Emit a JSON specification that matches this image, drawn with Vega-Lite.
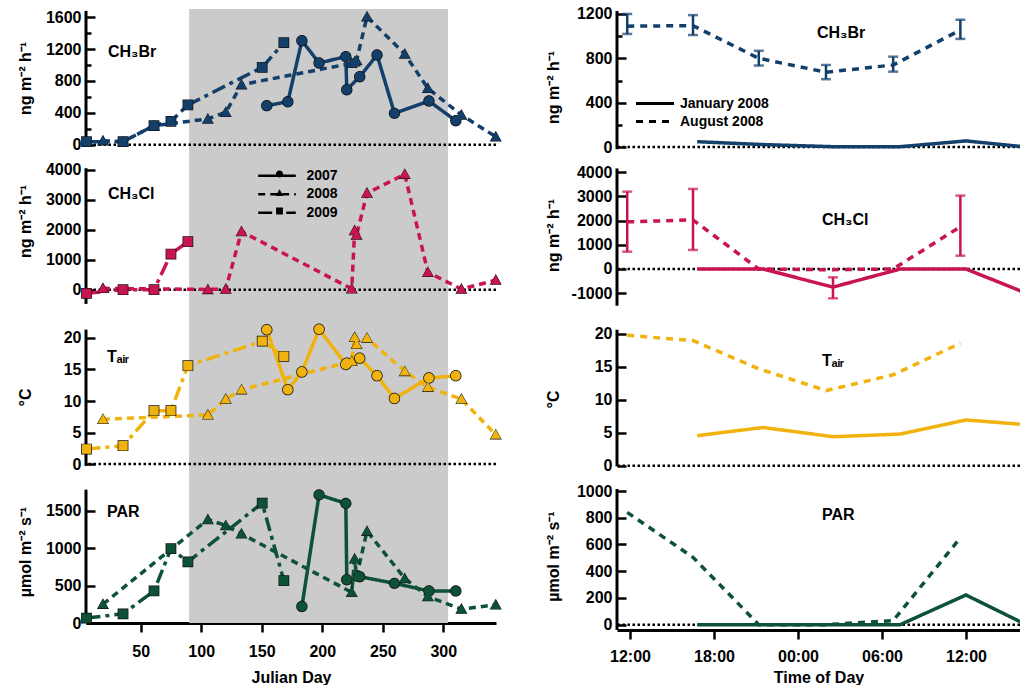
{
"$schema":"https://vega.github.io/schema/vega-lite/v6.json",
"background":"white",
"padding":{"left":17,"top":5,"right":0,"bottom":0},
"datasets":{
"shade":[{"start":90,"end":304}],
"left":[
{"p":"br","yr":"2008","d":18.8,"v":50},{"p":"br","yr":"2008","d":35.4,"v":38},{"p":"br","yr":"2008","d":61,"v":239},{"p":"br","yr":"2008","d":105.5,"v":323},{"p":"br","yr":"2008","d":120.3,"v":407},{"p":"br","yr":"2008","d":133.3,"v":754},{"p":"br","yr":"2008","d":224.4,"v":1022},{"p":"br","yr":"2008","d":226.8,"v":1040},{"p":"br","yr":"2008","d":228.4,"v":1058},{"p":"br","yr":"2008","d":237,"v":1608},{"p":"br","yr":"2008","d":268.2,"v":1139},{"p":"br","yr":"2008","d":287.3,"v":708},{"p":"br","yr":"2008","d":315,"v":373},{"p":"br","yr":"2008","d":343.4,"v":100},
{"p":"br","yr":"2007","d":154.2,"v":490},{"p":"br","yr":"2007","d":171.6,"v":540},{"p":"br","yr":"2007","d":183.2,"v":1306},{"p":"br","yr":"2007","d":197.4,"v":1026},{"p":"br","yr":"2007","d":219.5,"v":1106},{"p":"br","yr":"2007","d":220.3,"v":690},{"p":"br","yr":"2007","d":231,"v":854},{"p":"br","yr":"2007","d":245.3,"v":1127},{"p":"br","yr":"2007","d":259.7,"v":394},{"p":"br","yr":"2007","d":288.2,"v":548},{"p":"br","yr":"2007","d":310.4,"v":301},
{"p":"br","yr":"2009","d":5.2,"v":38},{"p":"br","yr":"2009","d":35.4,"v":38},{"p":"br","yr":"2009","d":61,"v":239},{"p":"br","yr":"2009","d":75,"v":294},{"p":"br","yr":"2009","d":89,"v":499},{"p":"br","yr":"2009","d":150.4,"v":972},{"p":"br","yr":"2009","d":168.3,"v":1281},
{"p":"cl","yr":"2008","d":18.8,"v":45},{"p":"cl","yr":"2008","d":105.5,"v":10},{"p":"cl","yr":"2008","d":120.3,"v":20},{"p":"cl","yr":"2008","d":133.3,"v":1940},{"p":"cl","yr":"2008","d":224.4,"v":30},{"p":"cl","yr":"2008","d":226.8,"v":1970},{"p":"cl","yr":"2008","d":228.4,"v":1820},{"p":"cl","yr":"2008","d":237,"v":3220},{"p":"cl","yr":"2008","d":268.2,"v":3850},{"p":"cl","yr":"2008","d":287.3,"v":580},{"p":"cl","yr":"2008","d":315,"v":20},{"p":"cl","yr":"2008","d":343.4,"v":320},
{"p":"cl","yr":"2009","d":5.2,"v":-120},{"p":"cl","yr":"2009","d":35.4,"v":0},{"p":"cl","yr":"2009","d":61,"v":0},{"p":"cl","yr":"2009","d":75,"v":1190},{"p":"cl","yr":"2009","d":89,"v":1600},
{"p":"t","yr":"2008","d":18.8,"v":7.1},{"p":"t","yr":"2008","d":105.5,"v":7.8},{"p":"t","yr":"2008","d":120.3,"v":10.3},{"p":"t","yr":"2008","d":133.3,"v":11.8},{"p":"t","yr":"2008","d":224.4,"v":16.3},{"p":"t","yr":"2008","d":226.8,"v":20.1},{"p":"t","yr":"2008","d":228.4,"v":19.0},{"p":"t","yr":"2008","d":237,"v":20.0},{"p":"t","yr":"2008","d":268.2,"v":14.7},{"p":"t","yr":"2008","d":287.3,"v":12.2},{"p":"t","yr":"2008","d":315,"v":10.3},{"p":"t","yr":"2008","d":343.4,"v":4.65},
{"p":"t","yr":"2007","d":154.2,"v":21.3},{"p":"t","yr":"2007","d":171.6,"v":11.8},{"p":"t","yr":"2007","d":183.2,"v":14.6},{"p":"t","yr":"2007","d":197.4,"v":21.4},{"p":"t","yr":"2007","d":219.5,"v":15.8},{"p":"t","yr":"2007","d":220.3,"v":16.0},{"p":"t","yr":"2007","d":231,"v":16.8},{"p":"t","yr":"2007","d":245.3,"v":14.0},{"p":"t","yr":"2007","d":259.7,"v":10.4},{"p":"t","yr":"2007","d":288.2,"v":13.65},{"p":"t","yr":"2007","d":310.4,"v":14.0},
{"p":"t","yr":"2009","d":5.2,"v":2.38},{"p":"t","yr":"2009","d":35.4,"v":2.9},{"p":"t","yr":"2009","d":61,"v":8.46},{"p":"t","yr":"2009","d":75,"v":8.46},{"p":"t","yr":"2009","d":89,"v":15.6},{"p":"t","yr":"2009","d":150.4,"v":19.5},{"p":"t","yr":"2009","d":168.3,"v":17.1},
{"p":"par","yr":"2008","d":18.8,"v":252},{"p":"par","yr":"2008","d":105.5,"v":1385},{"p":"par","yr":"2008","d":120.3,"v":1305},{"p":"par","yr":"2008","d":133.3,"v":1194},{"p":"par","yr":"2008","d":224.4,"v":410},{"p":"par","yr":"2008","d":226.8,"v":860},{"p":"par","yr":"2008","d":228.4,"v":620},{"p":"par","yr":"2008","d":237,"v":1230},{"p":"par","yr":"2008","d":268.2,"v":597},{"p":"par","yr":"2008","d":287.3,"v":354},{"p":"par","yr":"2008","d":315,"v":186},{"p":"par","yr":"2008","d":343.4,"v":243},
{"p":"par","yr":"2007","d":183.2,"v":221},{"p":"par","yr":"2007","d":197.4,"v":1716},{"p":"par","yr":"2007","d":219.5,"v":1602},{"p":"par","yr":"2007","d":220.3,"v":580},{"p":"par","yr":"2007","d":231,"v":620},{"p":"par","yr":"2007","d":259.7,"v":531},{"p":"par","yr":"2007","d":288.2,"v":429},{"p":"par","yr":"2007","d":310.4,"v":429},
{"p":"par","yr":"2009","d":5.2,"v":66},{"p":"par","yr":"2009","d":35.4,"v":123},{"p":"par","yr":"2009","d":61,"v":429},{"p":"par","yr":"2009","d":75,"v":995},{"p":"par","yr":"2009","d":89,"v":819},{"p":"par","yr":"2009","d":150.4,"v":1606},{"p":"par","yr":"2009","d":168.3,"v":566}
],
"right":[
{"p":"br","m":"August 2008","h":11.8,"v":1090,"lo":1020,"hi":1200},{"p":"br","m":"August 2008","h":16.5,"v":1095,"lo":1010,"hi":1190},{"p":"br","m":"August 2008","h":21.2,"v":800,"lo":735,"hi":868},{"p":"br","m":"August 2008","h":26.0,"v":675,"lo":612,"hi":740},{"p":"br","m":"August 2008","h":30.8,"v":740,"lo":680,"hi":815},{"p":"br","m":"August 2008","h":35.6,"v":1055,"lo":975,"hi":1148},
{"p":"br","m":"January 2008","h":16.8,"v":48},{"p":"br","m":"January 2008","h":21.5,"v":22},{"p":"br","m":"January 2008","h":26.5,"v":3},{"p":"br","m":"January 2008","h":31.3,"v":3},{"p":"br","m":"January 2008","h":36,"v":55},{"p":"br","m":"January 2008","h":40.3,"v":0},
{"p":"cl","m":"August 2008","h":11.8,"v":1950,"lo":716,"hi":3200},{"p":"cl","m":"August 2008","h":16.5,"v":2030,"lo":786,"hi":3312},{"p":"cl","m":"August 2008","h":21.2,"v":0},{"p":"cl","m":"August 2008","h":26.0,"v":-30},{"p":"cl","m":"August 2008","h":30.8,"v":0},{"p":"cl","m":"August 2008","h":35.6,"v":1750,"lo":550,"hi":3035},
{"p":"cl","m":"January 2008","h":16.8,"v":0},{"p":"cl","m":"January 2008","h":21.5,"v":0},{"p":"cl","m":"January 2008","h":26.5,"v":-750,"lo":-1213,"hi":-344},{"p":"cl","m":"January 2008","h":31.3,"v":0},{"p":"cl","m":"January 2008","h":36,"v":0},{"p":"cl","m":"January 2008","h":40.3,"v":-1000},
{"p":"t","m":"August 2008","h":11.8,"v":19.8},{"p":"t","m":"August 2008","h":16.5,"v":19.0},{"p":"t","m":"August 2008","h":21.2,"v":14.7},{"p":"t","m":"August 2008","h":26.0,"v":11.4},{"p":"t","m":"August 2008","h":30.8,"v":13.8},{"p":"t","m":"August 2008","h":35.6,"v":18.6},
{"p":"t","m":"January 2008","h":16.8,"v":4.56},{"p":"t","m":"January 2008","h":21.5,"v":5.8},{"p":"t","m":"January 2008","h":26.5,"v":4.4},{"p":"t","m":"January 2008","h":31.3,"v":4.8},{"p":"t","m":"January 2008","h":36,"v":6.94},{"p":"t","m":"January 2008","h":40.3,"v":6.23},
{"p":"par","m":"August 2008","h":11.8,"v":840},{"p":"par","m":"August 2008","h":16.5,"v":504},{"p":"par","m":"August 2008","h":21.2,"v":0},{"p":"par","m":"August 2008","h":26.0,"v":0},{"p":"par","m":"August 2008","h":30.8,"v":30},{"p":"par","m":"August 2008","h":35.6,"v":650},
{"p":"par","m":"January 2008","h":16.8,"v":0},{"p":"par","m":"January 2008","h":21.5,"v":0},{"p":"par","m":"January 2008","h":26.5,"v":0},{"p":"par","m":"January 2008","h":31.3,"v":0},{"p":"par","m":"January 2008","h":36,"v":222},{"p":"par","m":"January 2008","h":40.3,"v":0}
]
},
"spacing":19,
"resolve":{"scale":{"shape":"independent","strokeDash":"independent"},"legend":{"shape":"independent","strokeDash":"independent"}},
"hconcat":[
{"spacing":0,"bounds":"flush",
"resolve":{"scale":{"shape":"independent","strokeDash":"independent"},"legend":{"shape":"independent","strokeDash":"independent"}},
"vconcat":[
{"width":410,"height":147,
"title":{"text":"CH\u2083Br","anchor":"start","frame":"group","orient":"top","offset":-64,"dx":22,"baseline":"alphabetic"},
"layer":[
{"data":{"name":"shade"},"mark":{"type":"rect","color":"#cbcbcb"},"encoding":{"x":{"field":"start","type":"quantitative","scale":{"domain":[4.8,343.6],"nice":false,"zero":false},"axis":null},"x2":{"field":"end"}}},
{"data":{"name":"shade"},"mark":{"type":"rule","color":"black","strokeWidth":2.5,"strokeDash":[2.5,2.5]},"encoding":{"y":{"datum":0,"type":"quantitative","scale":{"domain":[-142,1704],"nice":false,"zero":false}}}},
{"data":{"name":"shade"},"mark":{"type":"rule","color":"black","strokeWidth":3},"encoding":{"x":{"datum":4.8,"type":"quantitative","scale":{"domain":[4.8,343.6],"nice":false,"zero":false},"axis":null},"y":{"datum":-12,"type":"quantitative","scale":{"domain":[-142,1704],"nice":false,"zero":false}},"y2":{"datum":1680}}},
{"data":{"name":"left"},"transform":[{"filter":"datum.p == 'br'"}],
"encoding":{"x":{"field":"d","type":"quantitative","scale":{"domain":[4.8,343.6],"nice":false,"zero":false},"axis":null},
"y":{"field":"v","type":"quantitative","scale":{"domain":[-142,1704],"nice":false,"zero":false},"axis":{"values":[0,200,400,600,800,1000,1200,1400,1600],"tickCount":100,"labelOverlap":false,"labelExpr":"datum.value % 400 == 0 ? '' + datum.value : ''","tickSize":{"condition":{"test":"datum.value % 400 == 0","value":-9},"value":-5},"title":"ng m\u207b\u00b2 h\u207b\u00b9","titleX":-53,"titleY":69}}},
"layer":[
{"mark":{"type":"line","color":"#133f6b","strokeWidth":3.5},"encoding":{"strokeDash":{"field":"yr","type":"nominal","scale":{"domain":["2007","2008","2009"],"range":[[1,0],[7,5],[14,5,4,5]]},"legend":null}}},
{"mark":{"type":"point","filled":true,"color":"#111111","strokeWidth":0,"size":160,"opacity":1},"encoding":{"shape":{"field":"yr","type":"nominal","scale":{"domain":["2007","2008","2009"],"range":["M-4.7,0H4.7M0.9,0A0.9,0.9,0,1,1,-0.9,0A0.9,0.9,0,1,1,0.9,0Z","M-4.7,0H4.7M0,-0.95L0.95,0.75L-0.95,0.75Z","M-4.7,0H4.7M-0.85,-0.85H0.85V0.85H-0.85Z"]},"legend":null}}},
{"mark":{"type":"point","filled":true,"color":"#133f6b","strokeWidth":0,"size":121,"opacity":1},"encoding":{"shape":{"field":"yr","type":"nominal","scale":{"domain":["2007","2008","2009"],"range":["M-4.7,0H4.7M0.9,0A0.9,0.9,0,1,1,-0.9,0A0.9,0.9,0,1,1,0.9,0Z","M-4.7,0H4.7M0,-0.95L0.95,0.75L-0.95,0.75Z","M-4.7,0H4.7M-0.85,-0.85H0.85V0.85H-0.85Z"]},"legend":null}}}
]}
]},
{"width":410,"height":161,
"title":{"text":"CH\u2083Cl","anchor":"start","frame":"group","orient":"top","offset":-59,"dx":22,"baseline":"alphabetic"},
"layer":[
{"data":{"name":"shade"},"mark":{"type":"rect","color":"#cbcbcb"},"encoding":{"x":{"field":"start","type":"quantitative","scale":{"domain":[4.8,343.6],"nice":false,"zero":false},"axis":null},"x2":{"field":"end"}}},
{"data":{"name":"shade"},"mark":{"type":"rule","color":"black","strokeWidth":2.5,"strokeDash":[2.5,2.5]},"encoding":{"y":{"datum":0,"type":"quantitative","scale":{"domain":[-910,4457],"nice":false,"zero":false}}}},
{"data":{"name":"shade"},"mark":{"type":"rule","color":"black","strokeWidth":3},"encoding":{"x":{"datum":4.8,"type":"quantitative","scale":{"domain":[4.8,343.6],"nice":false,"zero":false},"axis":null},"y":{"datum":-473,"type":"quantitative","scale":{"domain":[-910,4457],"nice":false,"zero":false}},"y2":{"datum":4050}}},
{"data":{"name":"left"},"transform":[{"filter":"datum.p == 'cl'"}],
"encoding":{"x":{"field":"d","type":"quantitative","scale":{"domain":[4.8,343.6],"nice":false,"zero":false},"axis":null},
"y":{"field":"v","type":"quantitative","scale":{"domain":[-910,4457],"nice":false,"zero":false},"axis":{"values":[0,1000,2000,3000,4000],"tickCount":100,"labelOverlap":false,"labelExpr":"'' + datum.value","title":"ng m\u207b\u00b2 h\u207b\u00b9","titleX":-53,"titleY":65}}},
"layer":[
{"transform":[{"filter":"false"}],"mark":{"type":"point","filled":true,"color":"black","size":64,"opacity":1},
"encoding":{
"shape":{"field":"yr","type":"nominal","scale":{"domain":["2007","2008","2009"],"range":["M-4.7,0H4.7M0.9,0A0.9,0.9,0,1,1,-0.9,0A0.9,0.9,0,1,1,0.9,0Z","M-4.7,0H4.7M0,-0.95L0.95,0.75L-0.95,0.75Z","M-4.7,0H4.7M-0.85,-0.85H0.85V0.85H-0.85Z"]},
"legend":{"orient":"none","legendX":186.5,"legendY":11,"title":null,"labelFont":"Liberation Sans","labelFontSize":14,"labelFontWeight":"bold","labelColor":"black","labelOpacity":0,"labelOffset":21,"symbolSize":64,"rowPadding":1,"symbolStrokeWidth":2.5,"symbolStrokeColor":"black","symbolFillColor":"black","symbolOpacity":1}}
}},
{"data":{"name":"left"},"mark":{"type":"line","color":"black","strokeWidth":0},
"encoding":{"strokeDash":{"field":"yr","type":"nominal","scale":{"range":[[1,0],[7,5],[14,5,4,5]]},
"legend":{"orient":"none","legendX":184,"legendY":12.7,"title":null,"labelFont":"Liberation Sans","labelFontSize":14,"labelFontWeight":"bold","labelColor":"black","labelOffset":22.5,"symbolType":"M-4.7,0H4.7","symbolSize":64,"rowPadding":4.5,"symbolStrokeWidth":2.5,"symbolStrokeColor":"black"}}}},
{"transform":[{"filter":"datum.yr == '2008'"}],"mark":{"type":"line","color":"#c81451","strokeWidth":3.5,"strokeDash":[7,5]}},
{"transform":[{"filter":"datum.yr == '2009'"}],"mark":{"type":"line","color":"#c81451","strokeWidth":3.5,"strokeDash":[14,5,4,5]}},
{"mark":{"type":"point","filled":true,"color":"#111111","strokeWidth":0,"size":160,"opacity":1},"encoding":{"shape":{"field":"yr","type":"nominal","scale":{"domain":["2007","2008","2009"],"range":["M-4.7,0H4.7M0.9,0A0.9,0.9,0,1,1,-0.9,0A0.9,0.9,0,1,1,0.9,0Z","M-4.7,0H4.7M0,-0.95L0.95,0.75L-0.95,0.75Z","M-4.7,0H4.7M-0.85,-0.85H0.85V0.85H-0.85Z"]},"legend":null}}},
{"mark":{"type":"point","filled":true,"color":"#c81451","strokeWidth":0,"size":121,"opacity":1},"encoding":{"shape":{"field":"yr","type":"nominal","scale":{"domain":["2007","2008","2009"],"range":["M-4.7,0H4.7M0.9,0A0.9,0.9,0,1,1,-0.9,0A0.9,0.9,0,1,1,0.9,0Z","M-4.7,0H4.7M0,-0.95L0.95,0.75L-0.95,0.75Z","M-4.7,0H4.7M-0.85,-0.85H0.85V0.85H-0.85Z"]},"legend":null}}}
]}
]},
{"width":410,"height":160,
"title":{"text":"T\u2090\u1d62\u1d63","anchor":"start","frame":"group","orient":"top","offset":-61,"dx":21,"baseline":"alphabetic"},
"layer":[
{"data":{"name":"shade"},"mark":{"type":"rect","color":"#cbcbcb"},"encoding":{"x":{"field":"start","type":"quantitative","scale":{"domain":[4.8,343.6],"nice":false,"zero":false},"axis":null},"x2":{"field":"end"}}},
{"data":{"name":"shade"},"mark":{"type":"rule","color":"black","strokeWidth":2.5,"strokeDash":[2.5,2.5]},"encoding":{"y":{"datum":0,"type":"quantitative","scale":{"domain":[-2.06,23.33],"nice":false,"zero":false}}}},
{"data":{"name":"shade"},"mark":{"type":"rule","color":"black","strokeWidth":3},"encoding":{"x":{"datum":4.8,"type":"quantitative","scale":{"domain":[4.8,343.6],"nice":false,"zero":false},"axis":null},"y":{"datum":-0.3,"type":"quantitative","scale":{"domain":[-2.06,23.33],"nice":false,"zero":false}},"y2":{"datum":21.33}}},
{"data":{"name":"left"},"transform":[{"filter":"datum.p == 't'"}],
"encoding":{"x":{"field":"d","type":"quantitative","scale":{"domain":[4.8,343.6],"nice":false,"zero":false},"axis":null},
"y":{"field":"v","type":"quantitative","scale":{"domain":[-2.06,23.33],"nice":false,"zero":false},"axis":{"values":[0,5,10,15,20],"tickCount":100,"labelOverlap":false,"labelExpr":"'' + datum.value","title":"\u00b0C","titleX":-53,"titleY":80}}},
"layer":[
{"mark":{"type":"line","color":"#f0b20c","strokeWidth":3.5},"encoding":{"strokeDash":{"field":"yr","type":"nominal","scale":{"domain":["2007","2008","2009"],"range":[[1,0],[7,5],[14,5,4,5]]},"legend":null}}},
{"mark":{"type":"point","filled":true,"color":"#111111","strokeWidth":0,"size":160,"opacity":1},"encoding":{"shape":{"field":"yr","type":"nominal","scale":{"domain":["2007","2008","2009"],"range":["M-4.7,0H4.7M0.9,0A0.9,0.9,0,1,1,-0.9,0A0.9,0.9,0,1,1,0.9,0Z","M-4.7,0H4.7M0,-0.95L0.95,0.75L-0.95,0.75Z","M-4.7,0H4.7M-0.85,-0.85H0.85V0.85H-0.85Z"]},"legend":null}}},
{"mark":{"type":"point","filled":true,"color":"#f0b20c","strokeWidth":0,"size":121,"opacity":1},"encoding":{"shape":{"field":"yr","type":"nominal","scale":{"domain":["2007","2008","2009"],"range":["M-4.7,0H4.7M0.9,0A0.9,0.9,0,1,1,-0.9,0A0.9,0.9,0,1,1,0.9,0Z","M-4.7,0H4.7M0,-0.95L0.95,0.75L-0.95,0.75Z","M-4.7,0H4.7M-0.85,-0.85H0.85V0.85H-0.85Z"]},"legend":null}}}
]}
]},
{"width":410,"height":146,
"title":{"text":"PAR","anchor":"start","frame":"group","orient":"top","offset":-56,"dx":21,"baseline":"alphabetic"},
"layer":[
{"data":{"name":"shade"},"mark":{"type":"rect","color":"#cbcbcb"},"encoding":{"x":{"field":"start","type":"quantitative","scale":{"domain":[4.8,343.6],"nice":false,"zero":false}},"x2":{"field":"end"}}},
{"data":{"name":"shade"},"mark":{"type":"rule","color":"black","strokeWidth":3},"encoding":{"x":{"datum":4.8,"type":"quantitative","scale":{"domain":[4.8,343.6],"nice":false,"zero":false}},"y":{"datum":0,"type":"quantitative","scale":{"domain":[0,1955],"nice":false,"zero":false}},"y2":{"datum":1786}}},
{"data":{"name":"left"},"transform":[{"filter":"datum.p == 'par'"}],
"encoding":{"x":{"field":"d","type":"quantitative","scale":{"domain":[4.8,343.6],"nice":false,"zero":false},"axis":{"values":[50,100,150,200,250,300],"tickCount":100,"labelOverlap":false,"title":"Julian Day","labelPadding":11,"titlePadding":10,"labelExpr":"'' + datum.value"}},
"y":{"field":"v","type":"quantitative","scale":{"domain":[0,1955],"nice":false,"zero":false},"axis":{"values":[0,500,1000,1500],"tickCount":100,"labelOverlap":false,"labelExpr":"'' + datum.value","title":"\u00b5mol m\u207b\u00b2 s\u207b\u00b9","titleX":-53,"titleY":74.5}}},
"layer":[
{"mark":{"type":"line","color":"#0d5236","strokeWidth":3.5},"encoding":{"strokeDash":{"field":"yr","type":"nominal","scale":{"domain":["2007","2008","2009"],"range":[[1,0],[7,5],[14,5,4,5]]},"legend":null}}},
{"mark":{"type":"point","filled":true,"color":"#111111","strokeWidth":0,"size":160,"opacity":1},"encoding":{"shape":{"field":"yr","type":"nominal","scale":{"domain":["2007","2008","2009"],"range":["M-4.7,0H4.7M0.9,0A0.9,0.9,0,1,1,-0.9,0A0.9,0.9,0,1,1,0.9,0Z","M-4.7,0H4.7M0,-0.95L0.95,0.75L-0.95,0.75Z","M-4.7,0H4.7M-0.85,-0.85H0.85V0.85H-0.85Z"]},"legend":null}}},
{"mark":{"type":"point","filled":true,"color":"#0d5236","strokeWidth":0,"size":121,"opacity":1},"encoding":{"shape":{"field":"yr","type":"nominal","scale":{"domain":["2007","2008","2009"],"range":["M-4.7,0H4.7M0.9,0A0.9,0.9,0,1,1,-0.9,0A0.9,0.9,0,1,1,0.9,0Z","M-4.7,0H4.7M0,-0.95L0.95,0.75L-0.95,0.75Z","M-4.7,0H4.7M-0.85,-0.85H0.85V0.85H-0.85Z"]},"legend":null}}}
]}
]}
]},
{"spacing":0,"bounds":"flush",
"resolve":{"scale":{"shape":"independent","strokeDash":"independent"},"legend":{"shape":"independent","strokeDash":"independent"}},
"vconcat":[
{"width":403,"height":147,
"title":{"text":"CH\u2083Br","anchor":"start","frame":"group","orient":"top","offset":-48,"dx":200,"baseline":"alphabetic"},
"layer":[
{"data":{"name":"shade"},"mark":{"type":"rule","color":"black","strokeWidth":2.5,"strokeDash":[2.5,2.5]},"encoding":{"y":{"datum":0,"type":"quantitative","scale":{"domain":[-81,1245],"nice":false,"zero":false}}}},
{"data":{"name":"shade"},"mark":{"type":"rule","color":"black","strokeWidth":3},"encoding":{"x":{"datum":11.07,"type":"quantitative","scale":{"domain":[11.07,39.86],"nice":false,"zero":false},"axis":null},"y":{"datum":-20,"type":"quantitative","scale":{"domain":[-81,1245],"nice":false,"zero":false}},"y2":{"datum":1227}}},
{"data":{"name":"right"},"transform":[{"filter":"datum.p == 'br'"}],
"encoding":{"x":{"field":"h","type":"quantitative","scale":{"domain":[11.07,39.86],"nice":false,"zero":false},"axis":null},
"y":{"field":"v","type":"quantitative","scale":{"domain":[-81,1245],"nice":false,"zero":false},"axis":{"values":[0,200,400,600,800,1000,1200],"tickCount":100,"labelOverlap":false,"labelExpr":"datum.value % 400 == 0 ? '' + datum.value : ''","tickSize":{"condition":{"test":"datum.value % 400 == 0","value":-9},"value":-5},"title":"ng m\u207b\u00b2 h\u207b\u00b9","titleX":-56,"titleY":78}}},
"layer":[
{"mark":{"type":"line","color":"#133f6b","strokeWidth":3.5,"clip":true},"encoding":{"strokeDash":{"field":"m","type":"nominal","scale":{"domain":["January 2008","August 2008"],"range":[[1,0],[7,6]]},
"legend":{"orient":"none","legendX":31,"legendY":87.5,"title":null,"labelFont":"Liberation Sans","labelFontSize":14,"labelFontWeight":"bold","labelColor":"black","labelOffset":18,"symbolType":"M-3.8,0H3.8","symbolSize":100,"rowPadding":4,"symbolStrokeWidth":3,"symbolStrokeColor":"black"}}}},
{"transform":[{"filter":"datum.lo != null"}],"mark":{"type":"errorbar","color":"#133f6b","thickness":2.5,"ticks":{"size":10,"thickness":2.5}},"encoding":{"y":{"field":"lo","type":"quantitative","scale":{"domain":[-81,1245],"nice":false,"zero":false}},"y2":{"field":"hi"}}}
]}
]},
{"width":403,"height":161,
"title":{"text":"CH\u2083Cl","anchor":"start","frame":"group","orient":"top","offset":-85,"dx":205,"baseline":"alphabetic"},
"layer":[
{"data":{"name":"shade"},"mark":{"type":"rule","color":"black","strokeWidth":2.5,"strokeDash":[2.5,2.5]},"encoding":{"y":{"datum":0,"type":"quantitative","scale":{"domain":[-1986,4674],"nice":false,"zero":false}}}},
{"data":{"name":"shade"},"mark":{"type":"rule","color":"black","strokeWidth":3},"encoding":{"x":{"datum":11.07,"type":"quantitative","scale":{"domain":[11.07,39.86],"nice":false,"zero":false},"axis":null},"y":{"datum":-1518,"type":"quantitative","scale":{"domain":[-1986,4674],"nice":false,"zero":false}},"y2":{"datum":4160}}},
{"data":{"name":"right"},"transform":[{"filter":"datum.p == 'cl'"}],
"encoding":{"x":{"field":"h","type":"quantitative","scale":{"domain":[11.07,39.86],"nice":false,"zero":false},"axis":null},
"y":{"field":"v","type":"quantitative","scale":{"domain":[-1986,4674],"nice":false,"zero":false},"axis":{"values":[-1000,0,1000,2000,3000,4000],"tickCount":100,"labelOverlap":false,"labelExpr":"'' + datum.value","title":"ng m\u207b\u00b2 h\u207b\u00b9","titleX":-56,"titleY":79}}},
"layer":[
{"mark":{"type":"line","color":"#c81451","strokeWidth":3.5,"clip":true},"encoding":{"strokeDash":{"field":"m","type":"nominal","scale":{"domain":["January 2008","August 2008"],"range":[[1,0],[7,6]]},"legend":null}}},
{"transform":[{"filter":"datum.lo != null"}],"mark":{"type":"errorbar","color":"#c81451","thickness":2.5,"ticks":{"size":10,"thickness":2.5}},"encoding":{"y":{"field":"lo","type":"quantitative","scale":{"domain":[-1986,4674],"nice":false,"zero":false}},"y2":{"field":"hi"}}}
]}
]},
{"width":403,"height":160,
"title":{"text":"T\u2090\u1d62\u1d63","anchor":"start","frame":"group","orient":"top","offset":-65,"dx":205,"baseline":"alphabetic"},
"layer":[
{"data":{"name":"shade"},"mark":{"type":"rule","color":"black","strokeWidth":2.5,"strokeDash":[2.5,2.5]},"encoding":{"y":{"datum":0,"type":"quantitative","scale":{"domain":[-1.72,22.58],"nice":false,"zero":false}}}},
{"data":{"name":"shade"},"mark":{"type":"rule","color":"black","strokeWidth":3},"encoding":{"x":{"datum":11.07,"type":"quantitative","scale":{"domain":[11.07,39.86],"nice":false,"zero":false},"axis":null},"y":{"datum":-0.1,"type":"quantitative","scale":{"domain":[-1.72,22.58],"nice":false,"zero":false}},"y2":{"datum":20.65}}},
{"data":{"name":"right"},"transform":[{"filter":"datum.p == 't'"}],
"encoding":{"x":{"field":"h","type":"quantitative","scale":{"domain":[11.07,39.86],"nice":false,"zero":false},"axis":null},
"y":{"field":"v","type":"quantitative","scale":{"domain":[-1.72,22.58],"nice":false,"zero":false},"axis":{"values":[0,5,10,15,20],"tickCount":100,"labelOverlap":false,"labelExpr":"'' + datum.value","title":"\u00b0C","titleX":-56,"titleY":82}}},
"layer":[
{"mark":{"type":"line","color":"#f0b20c","strokeWidth":3.5,"clip":true},"encoding":{"strokeDash":{"field":"m","type":"nominal","scale":{"domain":["January 2008","August 2008"],"range":[[1,0],[7,6]]},"legend":null}}}
]}
]},
{"width":403,"height":153,
"title":{"text":"PAR","anchor":"start","frame":"group","orient":"top","offset":-59,"dx":205,"baseline":"alphabetic"},
"layer":[
{"data":{"name":"shade"},"mark":{"type":"rule","color":"black","strokeWidth":2.5,"strokeDash":[2.5,2.5]},"encoding":{"y":{"datum":0,"type":"quantitative","scale":{"domain":[-40,1105],"nice":false,"zero":false}}}},
{"data":{"name":"shade"},"mark":{"type":"rule","color":"black","strokeWidth":3},"encoding":{"x":{"datum":11.07,"type":"quantitative","scale":{"domain":[11.07,39.86],"nice":false,"zero":false}},"y":{"datum":-40,"type":"quantitative","scale":{"domain":[-40,1105],"nice":false,"zero":false}},"y2":{"datum":1015}}},
{"data":{"name":"right"},"transform":[{"filter":"datum.p == 'par'"}],
"encoding":{"x":{"field":"h","type":"quantitative","scale":{"domain":[11.07,39.86],"nice":false,"zero":false},"axis":{"values":[12,18,24,30,36],"tickCount":100,"labelOverlap":false,"title":"Time of Day","titlePadding":5,"labelExpr":"datum.value == 24 ? '00:00' : datum.value == 30 ? '06:00' : datum.value == 18 ? '18:00' : '12:00'"}},
"y":{"field":"v","type":"quantitative","scale":{"domain":[-40,1105],"nice":false,"zero":false},"axis":{"values":[0,200,400,600,800,1000],"tickCount":100,"labelOverlap":false,"labelExpr":"'' + datum.value","title":"\u00b5mol m\u207b\u00b2 s\u207b\u00b9","titleX":-56,"titleY":79}}},
"layer":[
{"mark":{"type":"line","color":"#0d5236","strokeWidth":3.5,"clip":true},"encoding":{"strokeDash":{"field":"m","type":"nominal","scale":{"domain":["January 2008","August 2008"],"range":[[1,0],[7,6]]},"legend":null}}}
]}
]}
]}
],
"config":{
"font":"Liberation Sans",
"view":{"stroke":null},
"title":{"font":"Liberation Sans","fontSize":16,"fontWeight":"bold","color":"black"},
"axis":{"labelFont":"Liberation Sans","labelFontSize":16,"labelFontWeight":"bold","labelColor":"black","labelOverlap":false,"titleFont":"Liberation Sans","titleFontSize":16,"titleFontWeight":"bold","titleColor":"black","tickColor":"black","tickWidth":2.5,"domainColor":"black","domainWidth":3,"grid":false},
"axisY":{"domain":false,"tickSize":-9,"labelPadding":14},
"axisX":{"domain":true,"tickSize":9,"labelPadding":9,"titlePadding":8}
}
}
